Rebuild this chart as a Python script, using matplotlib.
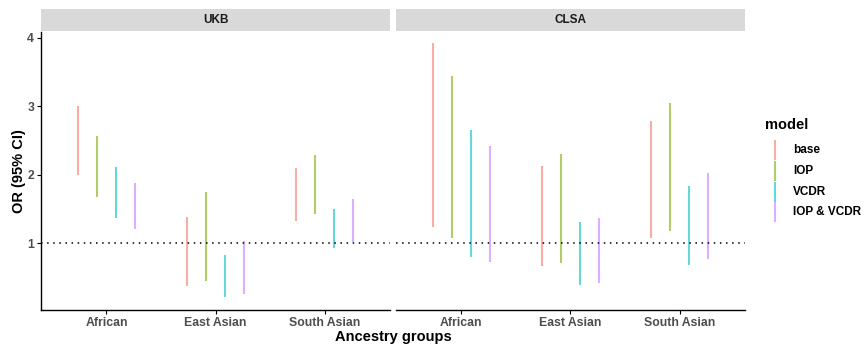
import numpy as np
import matplotlib.pyplot as plt
from matplotlib.lines import Line2D

plt.rcParams["font.family"] = ["Liberation Sans", "DejaVu Sans"]

# data (95% CI limits of the odds ratio)
groups = ["African", "East Asian", "South Asian"]
models = ["base", "IOP", "VCDR", "IOP & VCDR"]
colors = ["#F8766D", "#7CAE00", "#00BFC4", "#C77CFF"]

ukb_low = [[1.99, 1.67, 1.37, 1.20],
           [0.37, 0.45, 0.21, 0.25],
           [1.32, 1.42, 0.92, 1.01]]
ukb_high = [[3.00, 2.57, 2.11, 1.88],
            [1.38, 1.75, 0.83, 1.03],
            [2.10, 2.29, 1.50, 1.65]]

clsa_low = [[1.24, 1.08, 0.80, 0.72],
            [0.66, 0.71, 0.39, 0.41],
            [1.07, 1.17, 0.68, 0.76]]
clsa_high = [[3.92, 3.44, 2.66, 2.42],
             [2.12, 2.30, 1.30, 1.37],
             [2.78, 3.05, 1.84, 2.03]]

panels = [("UKB", ukb_low, ukb_high), ("CLSA", clsa_low, clsa_high)]

W, H = 864, 345
fig = plt.figure(figsize=(W / 100, H / 100), dpi=100)
bottom, top = 0.1014, 0.908
lefts = [0.0475, 0.4583]
width = 0.4039

dodge = 0.7 / len(models)
offsets = (np.arange(len(models)) - (len(models) - 1) / 2) * dodge
xpos = np.arange(1, len(groups) + 1)

for p, (name, low, high) in enumerate(panels):
    ax = fig.add_axes([lefts[p], bottom, width, top - bottom])
    low = np.array(low)
    high = np.array(high)
    for m in range(len(models)):
        ax.vlines(xpos + offsets[m], low[:, m], high[:, m],
                  color=colors[m], alpha=0.6, lw=1.5)
    ax.axhline(1, color="black", ls=(0, (1, 3)), lw=1.1)
    ax.set_xlim(0.4, 3.6)
    ax.set_ylim(0.02, 4.09)
    ax.set_xticks(xpos)
    ax.set_xticklabels(groups, fontsize=8.8, fontweight="bold", color="#4d4d4d")
    ax.set_yticks([1, 2, 3, 4])
    for s in ["top", "right"]:
        ax.spines[s].set_visible(False)
    ax.spines["bottom"].set_linewidth(1.0)
    ax.tick_params(axis="x", length=3, width=0.8, pad=2)
    if p == 0:
        ax.set_yticklabels(["1", "2", "3", "4"], fontsize=8.8, fontweight="bold",
                           color="#4d4d4d")
        ax.tick_params(axis="y", length=3, width=0.8, pad=2)
        ax.spines["left"].set_linewidth(1.0)
        ax.set_ylabel("OR (95% CI)", fontsize=10.5, fontweight="bold", labelpad=1)
    else:
        ax.spines["left"].set_visible(False)
        ax.tick_params(axis="y", left=False, labelleft=False)

    # facet strip
    strip = fig.add_axes([lefts[p], 0.910, width, 0.064])
    strip.set_facecolor("#d9d9d9")
    strip.set_xticks([])
    strip.set_yticks([])
    for s in strip.spines.values():
        s.set_visible(False)
    strip.text(0.5, 0.5, name, ha="center", va="center", fontsize=8.5,
               fontweight="bold", color="#1a1a1a", transform=strip.transAxes)

fig.text(0.455, 0.022, "Ancestry groups", ha="center", va="center",
         fontsize=10.5, fontweight="bold")

# legend drawn by hand so the keys are tall vertical strokes like ggplot's
fig.text(765 / W, 1 - 125 / H, "model", ha="left", va="center",
         fontsize=10.5, fontweight="bold")
for i, (lab, c) in enumerate(zip(models, colors)):
    yc = 150 + i * 20.8
    fig.add_artist(Line2D([775 / W, 775 / W], [1 - (yc - 9) / H, 1 - (yc + 9) / H],
                          color=c, alpha=0.6, lw=1.5))
    fig.text(793 / W, 1 - yc / H, lab, ha="left", va="center",
             fontsize=8.5, fontweight="bold")

fig.savefig("out.png", dpi=100)
